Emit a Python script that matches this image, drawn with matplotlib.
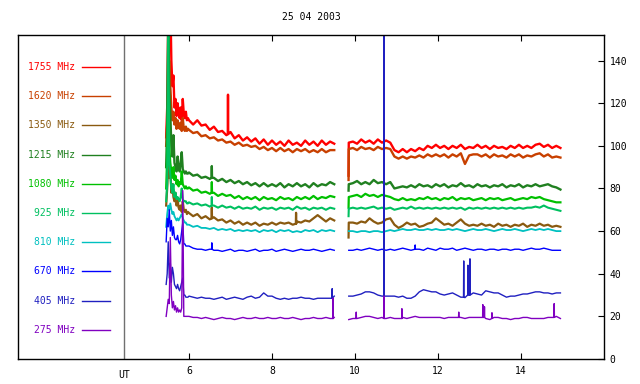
import numpy as np
import matplotlib.pyplot as plt

# sample times (UT hours): burst, first block, second block
t_burst = 5.45 + 0.025 * np.arange(22)
t_early = 6.0 + 0.1 * np.arange(36)
t_late = 9.85 + 0.1 * np.arange(52)

labels = ["1755 MHz", "1620 MHz", "1350 MHz", "1215 MHz", "1080 MHz",
          "925 MHz", "810 MHz", "670 MHz", "405 MHz", "275 MHz"]
colors = ["#ff0000", "#c84000", "#8a5a10", "#208020", "#00c000",
          "#00c060", "#00c0c0", "#0000ff", "#2020c0", "#8000c0"]
widths = [1.7, 1.7, 1.6, 1.7, 1.6, 1.5, 1.3, 1.0, 1.0, 1.0]

burst_1755 = [104, 118, 160, 175, 170, 140, 128, 133, 118, 122, 114, 120, 116, 113, 118, 112, 122, 115, 113, 116, 112, 113]
early_1755 = [112, 110, 112, 109.5, 110, 107.5, 109, 106.5, 107, 105, 106.5, 103.5, 105, 102.5, 104, 102, 103.5, 101,
              103, 100.5, 102.5, 100.5, 102, 100, 102.5, 100.5, 101.5, 100, 102.5, 100.5, 102, 100, 102.5, 100.5, 102, 101]
late_1755 = [101.5, 102, 101, 103, 101.5, 102.5, 101, 103, 101.5, 102.5, 101.5, 98, 97, 98.5, 97, 98.5, 97.5, 99, 98, 100,
             99, 100.5, 99, 100, 98.5, 100, 99, 100.5, 98.5, 99.5, 99, 100.5, 99, 100, 98.5, 100, 99, 99.5, 98.5, 100,
             99, 100.5, 99, 100, 99, 100.5, 101, 99.5, 100.5, 99, 100, 99]
spikes_1755 = [(6.935, 105.5), (6.94, 124), (6.945, 105.5), (9.845, 86)]

burst_1620 = [100, 110, 125, 140, 128, 118, 112, 116, 110, 113, 108, 112, 109, 108, 111, 107, 113, 108, 107, 109, 107, 108]
early_1620 = [107.5, 106, 106.5, 104.5, 105, 103.5, 104, 102.5, 103, 101.5, 102, 100.5, 101.5, 100, 100.5, 99.5, 100, 98.5,
              99.5, 98, 99, 97.5, 99, 97.5, 98.5, 97, 98.5, 97.5, 98.5, 97, 98, 97, 98.5, 97, 98, 98]
late_1620 = [98.5, 99, 98, 99.5, 98.5, 99, 98, 99.5, 98.5, 99, 98.5, 95, 94, 95, 94, 95, 94.5, 95.5, 94.5, 96,
             95, 96, 95, 96, 94.5, 96, 95, 96.5, 91.5, 95.5, 96, 96, 95, 96, 94.5, 96, 95, 95.5, 94.5, 96,
             95, 96, 94.5, 95.5, 95, 96, 96.5, 95, 96, 94.5, 95, 94.5]
spikes_1620 = [(9.845, 84)]

burst_1350 = [72, 80, 92, 85, 90, 78, 82, 76, 74, 78, 72, 75, 71, 70, 72, 69, 74, 70, 69, 70, 68, 69]
early_1350 = [68.5, 67, 68, 66, 67, 65.5, 66.5, 65, 65.5, 64, 65, 63.5, 64.5, 63, 64, 63, 64, 62.5, 63.5, 63,
              64, 63, 64, 63.5, 64, 63, 64.5, 64, 65, 64.5, 66, 67.5, 66, 64.5, 66, 65]
late_1350 = [64, 64, 63.5, 64.5, 64, 66, 64.5, 63.5, 64, 65.5, 66, 63, 61.5, 62.5, 64, 63, 63.5, 62, 62.5, 63.5,
             64, 66, 64.5, 63, 63.5, 62.5, 64, 65.5, 63.5, 62.5, 63, 62.5, 63.5, 62.5, 63, 62, 63.5, 62.5, 63, 62,
             63, 62.5, 63.5, 62, 63, 62.5, 63.5, 62.5, 63, 62, 62.5, 62]
spikes_1350 = [(6.545, 66), (6.55, 71), (6.555, 66), (8.575, 63.5), (8.58, 68.6), (8.585, 63.5), (9.845, 57)]

burst_1215 = [90, 110, 160, 125, 115, 100, 95, 105, 92, 90, 88, 95, 90, 88, 92, 97, 89, 88, 87, 88, 87, 87]
early_1215 = [87.5, 86, 86.5, 85, 85.5, 84.5, 85, 83.5, 84.5, 83, 84, 82.5, 83.5, 82, 83, 81.5, 82.5, 81, 82.5, 81,
              82, 81, 82.5, 80.5, 82, 81, 82.5, 81, 82, 80.5, 82.5, 81, 82, 81.5, 83, 82]
late_1215 = [82, 82.5, 83.5, 82, 83, 82, 84, 82.5, 83, 82, 83, 80, 80.5, 81, 80.5, 81.5, 80.5, 82, 81, 81.5,
             80.5, 82, 81, 82, 80.5, 81.5, 81, 82.5, 81, 81.5, 80.5, 82, 81, 81.5, 80.5, 81.5, 81, 82, 80.5, 81.5,
             81, 82, 80.5, 81.5, 81, 82, 81, 81.5, 82, 81, 80.5, 79.5]
spikes_1215 = [(6.545, 85), (6.55, 90.5), (6.555, 85), (9.845, 79)]

burst_1080 = [80, 95, 120, 100, 92, 88, 85, 90, 84, 86, 82, 84, 81, 83, 82, 88, 82, 81, 80, 81, 80, 80]
early_1080 = [80.5, 79, 79.5, 78, 78.5, 77.5, 78, 76.5, 77.5, 76.5, 77, 75.5, 76.5, 75, 76, 75, 76, 74.5, 76, 75,
              75.5, 74.5, 76, 75, 75.5, 74.5, 76, 75, 76, 75, 76.5, 75, 76, 75.5, 76.5, 76]
late_1080 = [76, 76.5, 77, 76, 77.5, 76.5, 77, 76, 77, 76.5, 76, 75, 74.5, 75.5, 74.5, 75, 74.5, 75.5, 75, 76,
             75, 75.5, 74.5, 75.5, 75, 76, 74.5, 75.5, 75, 75.5, 74.5, 75, 75.5, 74.5, 75.5, 75, 75.5, 74.5, 75, 75.5,
             74.5, 75, 75.5, 75, 76, 75.5, 76, 75, 74.5, 74, 73.5, 73.5]
spikes_1080 = [(6.545, 78), (6.55, 83), (6.555, 78), (9.845, 71)]

burst_925 = [74, 82, 160, 92, 86, 80, 78, 82, 76, 78, 75, 76, 75, 74, 76, 80, 75, 74, 74, 74, 73, 73]
early_925 = [73.5, 72.5, 73, 72, 72.5, 71.5, 72, 71, 72, 71, 71.5, 70.5, 71.5, 70.5, 71, 70.5, 71.5, 70, 71, 70.5,
             71, 70, 71, 70.5, 71, 70, 71.5, 70.5, 71, 70, 71, 70.5, 71, 70, 71, 70.5]
late_925 = [70.5, 71, 70.5, 71, 70.5, 71, 71.5, 70.5, 71, 70.5, 71, 70, 70.5, 71, 70.5, 71.5, 70.5, 71, 70.5, 71,
            70.5, 71, 70.5, 71, 70.5, 71, 70.5, 71, 70, 71, 70.5, 71, 70.5, 71, 70.5, 71, 70.5, 71, 70.5, 71,
            70.5, 71, 70.5, 71, 71, 71.5, 71, 72, 71, 70.5, 70, 69.5]
spikes_925 = [(6.545, 72), (6.55, 76), (6.555, 72), (9.845, 67)]

burst_810 = [62, 68, 72, 70, 73, 70, 68, 69, 67, 66, 65, 66, 65, 66, 67, 68, 66, 65, 64, 64, 63, 63]
early_810 = [63, 62, 62.5, 61.5, 61.5, 61, 61.5, 60.5, 61, 60.5, 61, 60, 60.5, 60, 60.5, 60, 60.5, 59.5, 60.5, 60,
             60.5, 59.5, 60.5, 60, 60.5, 59.5, 60, 59.5, 60.5, 60, 60.5, 59.5, 60.5, 60, 60.5, 60]
late_810 = [60, 60, 59.5, 60, 60, 59.5, 60, 60, 59.5, 60, 60.5, 60, 60.5, 61, 60.5, 60.5, 61, 60.5, 60.5, 61,
            60.5, 61, 60.5, 60.5, 61, 60.5, 61, 60.5, 60, 60.5, 61, 60.5, 60.5, 61, 60.5, 60, 60.5, 61, 60.5, 60.5,
            61, 60.5, 60, 60.5, 61, 60.5, 61, 60.5, 61, 60.5, 60, 60]
spikes_810 = []

burst_670 = [55, 66, 62, 70, 60, 65, 58, 62, 57, 56, 56, 58, 55, 54, 56, 60, 64, 54, 54, 53, 53, 53]
early_670 = [53, 52, 51.5, 51.5, 51, 51.5, 51, 51, 50.5, 51, 51.5, 50.5, 51, 51, 50.5, 51, 51.5, 50.5, 51, 51,
             51.5, 50.5, 51, 51.5, 51, 50.5, 51, 51.5, 51, 51, 51.5, 51, 50.5, 51, 51.5, 51]
late_670 = [51, 51, 51.5, 51, 51.5, 52, 51.5, 51, 51.5, 51, 51.5, 51, 51.5, 52, 51.5, 51, 52, 51.5, 51, 52,
            51.5, 51, 52, 51.5, 51.5, 52, 51, 51.5, 52, 51.5, 51, 51.5, 51.5, 51, 51.5, 51.5, 51, 51.5, 51.5, 51,
            51.5, 51.5, 51, 51.5, 52, 51.5, 51.5, 52, 51.5, 51, 51, 51]
spikes_670 = [(6.545, 51.5), (6.55, 54.5), (6.555, 51.5), (11.445, 51.5), (11.45, 53.5), (11.455, 51.5)]

burst_405 = [35, 40, 55, 38, 45, 36, 43, 40, 35, 34, 33, 35, 33, 32, 34, 36, 38, 30, 30, 29, 29, 29]
early_405 = [29.5, 29, 28.5, 29, 28.5, 28.5, 28, 28.5, 29, 28, 28.5, 29, 28.5, 28, 29, 29.5, 28.5, 29, 31, 29.5,
             29.5, 28.5, 28, 28.5, 28, 28.5, 28.5, 29, 28.5, 28.5, 28, 28.5, 28.5, 28.5, 28.5, 29.5]
late_405 = [29.5, 29.5, 30, 30.5, 31.5, 31.5, 31, 30, 29.5, 29.5, 29.5, 29.5, 29, 29.5, 28.5, 28.5, 29.5, 31.5, 32.5, 32,
            31.5, 31.5, 30.5, 30, 30.5, 31, 30, 29, 28.8, 30, 31, 30.5, 30, 32, 31.5, 31, 31, 30, 29, 29.5,
            29.5, 30, 30.5, 30.5, 31, 31.5, 31.5, 31, 31, 30.5, 31, 31]
spikes_405 = [(9.445, 28.5), (9.45, 33), (9.455, 28.5),
              (10.695, 29.5), (10.70, 200), (10.705, 29.5),
              (12.615, 29), (12.62, 46), (12.625, 29),
              (12.715, 30), (12.72, 44), (12.725, 30),
              (12.765, 30), (12.77, 47), (12.775, 30)]

burst_275 = [20, 24, 28, 26, 57, 30, 24, 27, 23, 25, 22, 24, 22, 23, 22, 24, 79, 20, 20, 20, 20, 20]
early_275 = [20, 19.5, 19.5, 19, 19.5, 19, 18.5, 19, 19.5, 19, 19, 18.5, 19, 19.5, 19, 19, 19.5, 19, 19, 19.5,
             19, 19, 19.5, 19, 19, 19.5, 19, 18.5, 19, 19, 19.5, 19, 19, 19.5, 19, 19.5]
late_275 = [18.5, 19, 19, 19.5, 20, 20, 19.5, 19, 19.5, 19, 19.5, 19, 19, 19.5, 19, 19.5, 20, 19.5, 19.5, 19.5,
            19.5, 19.5, 19.5, 19, 19.5, 19.5, 19.5, 19.5, 19, 19.5, 19.5, 19.5, 19.5, 19, 18.5, 19.5, 19.5, 19, 19, 18.5,
            19, 19, 19.5, 19.5, 19, 19, 19, 19, 19.5, 19.5, 20, 19]
spikes_275 = [(9.465, 19), (9.47, 28.5), (9.475, 19),
              (10.025, 19), (10.03, 22), (10.035, 19),
              (10.695, 19), (10.70, 29.5), (10.705, 19),
              (11.125, 19), (11.13, 23.6), (11.135, 19),
              (12.495, 19.5), (12.5, 22), (12.505, 19.5),
              (13.075, 19.5), (13.08, 25.5), (13.085, 19.5), (13.115, 19.5), (13.12, 24.5), (13.125, 19.5),
              (13.295, 19), (13.3, 21.7), (13.305, 19),
              (14.795, 19.5), (14.8, 26), (14.805, 19.5)]

series = [
    (burst_1755, early_1755, late_1755, spikes_1755),
    (burst_1620, early_1620, late_1620, spikes_1620),
    (burst_1350, early_1350, late_1350, spikes_1350),
    (burst_1215, early_1215, late_1215, spikes_1215),
    (burst_1080, early_1080, late_1080, spikes_1080),
    (burst_925, early_925, late_925, spikes_925),
    (burst_810, early_810, late_810, spikes_810),
    (burst_670, early_670, late_670, spikes_670),
    (burst_405, early_405, late_405, spikes_405),
    (burst_275, early_275, late_275, spikes_275),
]


def build(burst, early, late, spikes):
    st = [s[0] for s in spikes]
    sv = [s[1] for s in spikes]
    t = np.concatenate([t_burst, t_early, [9.7], t_late, st])
    v = np.concatenate([burst, early, [np.nan], late, sv])
    order = np.argsort(t, kind="stable")
    return t[order], v[order]


mono = "DejaVu Sans Mono"
fs = 7

fig = plt.figure(figsize=(6.4, 3.84), dpi=100)
ax = fig.add_axes([18 / 640, 25 / 384, 586 / 640, 324 / 384])

for (burst, early, late, spikes), col, lw in zip(series, colors, widths):
    t, v = build(burst, early, late, spikes)
    ax.plot(t, v, color=col, lw=lw)

ax.set_xlim(1.88, 16.0)
ax.set_ylim(0, 152)
ax.axvline(4.43, color="#707070", lw=1)

ax.set_xticks([6, 8, 10, 12, 14])
ax.set_yticks(range(0, 141, 20))
ax.yaxis.tick_right()
ax.tick_params(axis="x", direction="in", length=4, top=True, bottom=True,
               labelsize=fs, pad=5)
ax.tick_params(axis="y", direction="in", length=4, left=False, right=True,
               labelsize=fs, pad=4)
for lab in ax.get_xticklabels() + ax.get_yticklabels():
    lab.set_fontfamily(mono)
for sp in ax.spines.values():
    sp.set_linewidth(1)

ax.text(4.43, -0.035, "UT", transform=ax.get_xaxis_transform(),
        ha="center", va="top", fontsize=fs, family=mono)

fig.text(311 / 640, 1 - 17 / 384, "25 04 2003", ha="center", va="center",
         fontsize=fs, family=mono)

# legend on the left: label plus short line
for i, (lab, col) in enumerate(zip(labels, colors)):
    y = 1 - (67 + i * 29.2) / 384
    fig.text(75 / 640, y, lab, color=col, ha="right", va="center",
             fontsize=fs, family=mono)
    fig.add_artist(plt.Line2D([82 / 640, 110 / 640], [y, y], color=col, lw=1,
                              transform=fig.transFigure))

fig.savefig("out.png", dpi=100)
